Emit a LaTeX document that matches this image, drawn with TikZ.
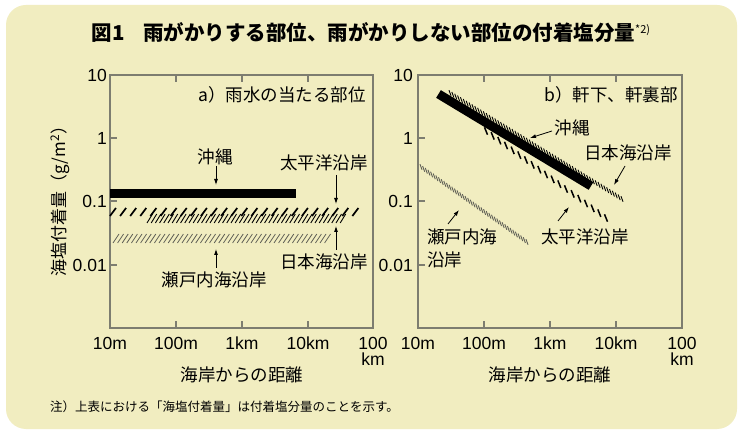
\documentclass[tikz,border=0pt]{standalone}
\usepackage{fontspec}
\setmainfont{Liberation Sans}
\newfontfamily\jp{Noto Sans CJK JP}
\usetikzlibrary{arrows.meta}
\definecolor{bgcol}{RGB}{241,237,192}
\definecolor{axcol}{RGB}{125,125,112}
\definecolor{setocol}{RGB}{95,95,85}
\newcommand\hatchline[8]{% x1 y1 x2 y2 N halflen style angle
  \foreach \i in {0,...,#5}{
    \pgfmathsetmacro\hpx{#1+\i/#5*(#3-#1)}
    \pgfmathsetmacro\hpy{#2+\i/#5*(#4-#2)}
    \draw[#7] (\hpx,\hpy) ++(#8+180:#6) -- ++(#8:2*#6);
  }%
}
\tikzset{
  axisframe/.style={draw=axcol, line width=1.2pt},
  tickmark/.style={draw=axcol, line width=1.2pt},
  ticklab/.style={inner sep=0pt, font=\fontsize{17.5}{18}\selectfont},
  jplab/.style={inner sep=0pt, font=\jp\fontsize{17.5}{18}\selectfont},
  arr/.style={draw=black, line width=0.8pt, -{Latex[length=6pt,width=4pt]}},
  hatchA/.style={line width=1.7pt, black},
  hatchB/.style={line width=0.9pt, black},
  hatchC/.style={line width=0.8pt, setocol},
}
\begin{document}
\begin{tikzpicture}[x=1pt,y=-1pt]
\useasboundingbox (0,0) rectangle (742,430);
\fill[white] (0,0) rectangle (742,430);
\fill[bgcol, rounded corners=20pt] (6,5) rectangle (737,429);

% title
\node[inner sep=0pt] (title) at (371,33) {\jp\bfseries\fontsize{20.5}{20.5}\selectfont 図1\hspace{0.9em}雨がかりする部位、雨がかりしない部位の付着塩分量\raisebox{7pt}{\mdseries\fontsize{11}{11}\selectfont *2)}};

% y-axis label
\node[jplab, rotate=90, font=\jp\fontsize{17}{18}\selectfont] (ylab) at (60,197) {海塩付着量（g/m\textsuperscript{2}）};

% ===== left panel =====
\draw[axisframe] (110,75) rectangle (373,328);
\foreach \y in {138,201,265} \draw[tickmark] (110,\y) -- (117,\y);
\foreach \x in {176,242,308} {\draw[tickmark] (\x,75) -- (\x,82); \draw[tickmark] (\x,328) -- (\x,321);}
\node[ticklab, anchor=east] (la10) at (107,75) {10};
\node[ticklab, anchor=east] (la1) at (107,138) {1};
\node[ticklab, anchor=east] (la01) at (107,201) {0.1};
\node[ticklab, anchor=east] (la001) at (107,265) {0.01};
\node[ticklab] (lx1) at (110,343) {10m};
\node[ticklab] (lx2) at (176,343) {100m};
\node[ticklab] (lx3) at (242,343) {1km};
\node[ticklab] (lx4) at (308,343) {10km};
\node[ticklab] (lx5) at (373,343) {100};
\node[ticklab] (lx5b) at (373,359) {km};
\node[jplab] (lxlab) at (242,375) {海岸からの距離};
\node[jplab, anchor=east] (ltitle) at (366,95) {a）雨水の当たる部位};

% data left
\draw[line width=9pt, black] (110,194) -- (296,194);
\foreach \i in {0,...,24} \draw[hatchA] ({110+\i*10.1},216) -- ++(6,-8);
\foreach \i in {0,...,46} \draw[hatchB] ({147+\i*4.2},223) -- ++(5.5,-9);
\foreach \i in {0,...,46} \draw[hatchC] ({113+\i*4.6},243) -- ++(6,-9);

\node[jplab] (lok) at (215,157) {沖縄};
\node[jplab] (lpac) at (324,163) {太平洋沿岸};
\node[jplab] (ljap) at (324,262) {日本海沿岸};
\node[jplab] (lseto) at (214,280) {瀬戸内海沿岸};
\coordinate (lokT) at (216,166); \coordinate (lokH) at (216,185);
\coordinate (lpacT) at (336,175); \coordinate (lpacH) at (336,204);
\coordinate (ljapT) at (336,250); \coordinate (ljapH) at (336,226);
\coordinate (lsetoT) at (216,268); \coordinate (lsetoH) at (216,249);
\draw[arr] (lokT) -- (lokH);
\draw[arr] (lpacT) -- (lpacH);
\draw[arr] (ljapT) -- (ljapH);
\draw[arr] (lsetoT) -- (lsetoH);

% ===== right panel =====
\draw[axisframe] (418,75) rectangle (682,328);
\foreach \y in {138,201,265} \draw[tickmark] (418,\y) -- (425,\y);
\foreach \x in {484,550,616} {\draw[tickmark] (\x,75) -- (\x,82); \draw[tickmark] (\x,328) -- (\x,321);}
\node[ticklab, anchor=east] (ra10) at (413,75) {10};
\node[ticklab, anchor=east] (ra1) at (413,138) {1};
\node[ticklab, anchor=east] (ra01) at (413,201) {0.1};
\node[ticklab, anchor=east] (ra001) at (413,265) {0.01};
\node[ticklab] (rx1) at (418,343) {10m};
\node[ticklab] (rx2) at (484,343) {100m};
\node[ticklab] (rx3) at (550,343) {1km};
\node[ticklab] (rx4) at (616,343) {10km};
\node[ticklab] (rx5) at (682,343) {100};
\node[ticklab] (rx5b) at (682,359) {km};
\node[jplab] (rxlab) at (550,375) {海岸からの距離};
\node[jplab, anchor=east] (rtitle) at (678,95) {b）軒下、軒裏部};

% data right
\draw[line width=9pt, black] (438.5,94) -- (591,186);
\hatchline{450}{93}{622}{199}{60}{3}{hatchB}{70}
\hatchline{486}{131}{606}{218}{18}{4}{hatchA, line width=1.5pt}{68}
\hatchline{421}{167}{527}{242}{40}{3}{hatchC, line width=0.9pt}{70}

\node[jplab] (rok) at (572,128) {沖縄};
\node[jplab] (rjap) at (628,153) {日本海沿岸};
\node[jplab] (rpac) at (585,237) {太平洋沿岸};
\node[jplab, anchor=west] (rseto) at (427,237) {瀬戸内海};
\node[jplab, anchor=west] (rseto2) at (427,260) {沿岸};
\coordinate (rokT) at (552,131); \coordinate (rokH) at (530,138);
\coordinate (rjapT) at (625,166); \coordinate (rjapH) at (614,185);
\coordinate (rpacT) at (558,221); \coordinate (rpacH) at (569,207);
\coordinate (rsetoT) at (448,224); \coordinate (rsetoH) at (459,210);
\draw[arr] (rokT) -- (rokH);
\draw[arr] (rjapT) -- (rjapH);
\draw[arr] (rpacT) -- (rpacH);
\draw[arr] (rsetoT) -- (rsetoH);

% note
\node[inner sep=0pt, anchor=west, font=\jp\fontsize{12.5}{13}\selectfont] (note) at (50,407) {注）上表における「海塩付着量」は付着塩分量のことを示す。};
\end{tikzpicture}
\end{document}
